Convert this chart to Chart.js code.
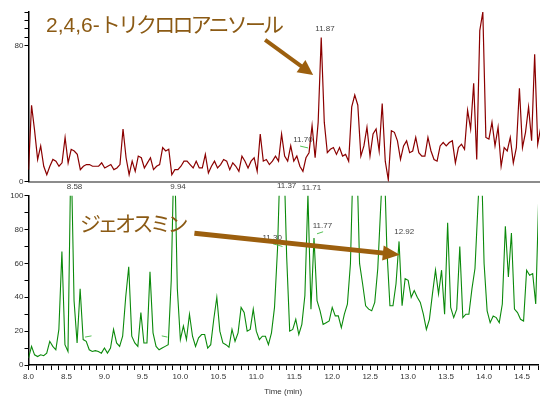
<!DOCTYPE html>
<html><head><meta charset="utf-8">
<script src="https://cdn.jsdelivr.net/npm/chart.js@4/dist/chart.umd.min.js"></script>
<style>
html,body{margin:0;padding:0;background:#fff;}
body{width:540px;height:397px;overflow:hidden;position:relative;}
canvas{position:absolute;left:0;}
#cTop{top:0;}
#cBot{top:178px;}
.big{position:absolute;color:#8b5a14;font-family:"Liberation Sans","Noto Sans CJK JP",sans-serif;font-size:21px;line-height:21px;white-space:nowrap;}
.big .kana{font-family:"Noto Sans CJK JP",sans-serif;}
#t1{left:46px;top:13px;}
#t1 .kana{letter-spacing:-2.8px;}
#t2{left:80px;top:212px;}
#t2 .kana{letter-spacing:-3.5px;}
</style></head>
<body>
<canvas id="cTop" width="540" height="190"></canvas>
<canvas id="cBot" width="540" height="219"></canvas>
<div class="big" id="t1">2,4,6-<span class="kana">トリクロロアニソール</span></div>
<div class="big" id="t2"><span class="kana">ジェオスミン</span></div>
<script>
// retention time grid (min)
const times = [
8,8.04,8.08,8.12,8.16,8.2,8.24,8.28,8.32,8.36,
8.4,8.44,8.48,8.52,8.56,8.6,8.64,8.68,8.72,8.76,
8.8,8.84,8.88,8.92,8.96,9,9.04,9.08,9.12,9.16,
9.2,9.24,9.28,9.32,9.36,9.4,9.44,9.48,9.52,9.56,
9.6,9.64,9.68,9.72,9.76,9.8,9.84,9.88,9.92,9.96,
10,10.04,10.08,10.12,10.16,10.2,10.24,10.28,10.32,10.36,
10.4,10.44,10.48,10.52,10.56,10.6,10.64,10.68,10.72,10.76,
10.8,10.84,10.88,10.92,10.96,11,11.04,11.08,11.12,11.16,
11.2,11.24,11.28,11.32,11.36,11.4,11.44,11.48,11.52,11.56,
11.6,11.64,11.68,11.72,11.76,11.8,11.84,11.88,11.92,11.96,
12,12.04,12.08,12.12,12.16,12.2,12.24,12.28,12.32,12.36,
12.4,12.44,12.48,12.52,12.56,12.6,12.64,12.68,12.72,12.76,
12.8,12.84,12.88,12.92,12.96,13,13.04,13.08,13.12,13.16,
13.2,13.24,13.28,13.32,13.36,13.4,13.44,13.48,13.52,13.56,
13.6,13.64,13.68,13.72,13.76,13.8,13.84,13.88,13.92,13.96,
14,14.04,14.08,14.12,14.16,14.2,14.24,14.28,14.32,14.36,
14.4,14.44,14.48,14.52,14.56,14.6,14.64,14.68,14.72];

// 2,4,6-trichloroanisole trace (relative intensity, %)
const tcaValues = [
7,45,30,13,21,9,4,9,13,12,
9,11,26,11,19,18,16,7,9,10,
10,9,9,9,11,8,9,10,7,8,
10,31,14,4,12,6,15,14,8,11,
14,7,9,10,20,18,19,4,7,7,
9,12,12,10,8,12,8,8,16,5,
9,12,8,10,13,12,7,11,9,6,
15,12,8,12,14,6,28,12,13,10,
12,15,12,28,15,12,21,12,15,9,
6,14,17,33,14,35,85,35,17,19,
20,16,20,15,16,12,44,51,45,15,
21,32,15,28,31,18,46,12,1,30,
29,24,13,21,24,17,18,26,17,15,
15,26,18,13,12,21,23,21,23,24,
11,20,22,19,42,31,58,13,89,100,
26,25,35,21,32,9,20,18,26,11,
20,55,20,29,44,24,75,22,32];

// geosmin trace (relative intensity, %; saturated peaks exceed 100)
const geosminValues = [
4,11,6,5,6,5.5,7,14,11,9,
21,67,12,8,130,38,13,45,15,14,
9,8,8.5,8,7,10,7,10,21,13,
11,17,40,58,17,13,11,31,13,13,
55,19,11,9,10,11,12,50,135,45,
15,23,15,30,17,11,16,18,18,10,
12,27,40,20,13,12,10.5,21,14,19,
34,31,20,21,33,20,15,17,17,12,
19,34,69,130,130,64,20,21,27,18,
24,41,101,33,75,38,32,24,25,26,
34,29,29,22,30,36,60,130,130,60,
48,35,33,32,37,57,95,130,68,35,
35,48,73,35,51,50,40,44,40,37,
30,21,27,42,56,42,56,30,84,34,
28,33,70,28,30,30,45,57,95,130,
60,32,25,29,28,25,36,82,52,78,
33,31,27,26,56,53,54,36,100];

// peak retention-time labels: text, time, level
const tcaPeakLabels = ['11.87','11.70'];
const tcaPeakTimes = [11.89, 11.60];
const tcaPeakLevels = [90, 24.5];

const geoPeakLabels = ['8.58','9.94','11.37','11.71','11.30','11.77','12.92'];
const geoPeakTimes = [8.606, 9.969, 11.399, 11.727, 11.209, 11.871, 12.948];
const geoPeakLevels = [105.5, 105.5, 105.9, 104.7, 75.1, 82.2, 78.7];

// small integration marks [t1, v1, t2, v2]
const tcaMarks = [[11.563, 20.9, 11.668, 19.8]];
const geoMarks = [[11.22, 71.6, 11.345, 70.0],[11.80, 77.5, 11.88, 78.7],[8.745, 16.5, 8.83, 17.2],[9.755, 17.2, 9.83, 16.5]];

// arrows [t1, v1, t2, v2]
const tcaArrow = [11.104, 83.5, 11.734, 62.9];
const geoArrow = [10.185, 77.8, 12.89, 65.1];

const X_MIN = 8, X_MAX = 14.71;
const FONT = '"Liberation Sans", Arial, sans-serif';

function toPoints(vals){ return times.map((t,i)=>({x:t, y:vals[i]})); }

function drawArrow(ctx, x1, y1, x2, y2, w, hl, hw, color){
  const dx = x2-x1, dy = y2-y1, L = Math.hypot(dx,dy);
  const ux = dx/L, uy = dy/L, px = -uy, py = ux;
  const bx = x2 - ux*hl, by = y2 - uy*hl;
  ctx.strokeStyle = color; ctx.fillStyle = color;
  ctx.lineWidth = w; ctx.lineCap = 'butt';
  ctx.beginPath(); ctx.moveTo(x1,y1); ctx.lineTo(bx+ux*1, by+uy*1); ctx.stroke();
  ctx.beginPath();
  ctx.moveTo(x2,y2);
  ctx.lineTo(bx+px*hw, by+py*hw);
  ctx.lineTo(bx-px*hw, by-py*hw);
  ctx.closePath(); ctx.fill();
}

const annotPlugin = {
  id: 'annot',
  afterDatasetsDraw(chart, args, opts){
    const ctx = chart.ctx, xs = chart.scales.x, ys = chart.scales.y;
    ctx.save();
    ctx.font = '8px ' + FONT;
    ctx.fillStyle = '#444';
    ctx.textAlign = 'center';
    ctx.textBaseline = 'middle';
    opts.labels.forEach((txt,i)=>{
      ctx.fillText(txt, xs.getPixelForValue(opts.times[i]), ys.getPixelForValue(opts.levels[i]));
    });
    ctx.strokeStyle = '#55c055';
    ctx.lineWidth = 1;
    opts.marks.forEach(m=>{
      ctx.beginPath();
      ctx.moveTo(xs.getPixelForValue(m[0]), ys.getPixelForValue(m[1]));
      ctx.lineTo(xs.getPixelForValue(m[2]), ys.getPixelForValue(m[3]));
      ctx.stroke();
    });
    const a = opts.arrow;
    drawArrow(ctx, xs.getPixelForValue(a[0]), ys.getPixelForValue(a[1]),
              xs.getPixelForValue(a[2]), ys.getPixelForValue(a[3]),
              opts.arrowWidth, opts.headLen, opts.headHalf, '#9c5f0e');
    ctx.restore();
  }
};

function baseOptions(){
  return {
    responsive:false, animation:false, devicePixelRatio:1,
    plugins:{legend:{display:false}, tooltip:{enabled:false}},
    elements:{point:{radius:0}, line:{tension:0}},
    events:[]
  };
}

// top chart: 2,4,6-trichloroanisole
const optTop = baseOptions();
optTop.layout = {padding:{top:12,left:0,right:0,bottom:0}};
optTop.scales = {
  x:{type:'linear', min:X_MIN, max:X_MAX,
     ticks:{display:false},
     grid:{drawOnChartArea:false, drawTicks:false},
     border:{display:true, color:'#8c8c8c', width:2},
     afterFit(s){ s.height = 8.5; }},
  y:{min:0, max:100,
     ticks:{stepSize:5, autoSkip:false, padding:1, color:'#333', font:{size:8, family:FONT},
            callback:(v)=> (v===0||v===80) ? String(v) : ''},
     grid:{drawOnChartArea:false, tickLength:4,
           tickColor:(c)=> (c.tick && (c.tick.value>=80 || c.tick.value===0)) ? '#000' : 'rgba(0,0,0,0)'},
     border:{color:'#000', width:1.5},
     afterFit(s){ s.width = 28.5; }}
};
optTop.plugins.annot = {labels:tcaPeakLabels, times:tcaPeakTimes, levels:tcaPeakLevels,
  marks:tcaMarks, arrow:tcaArrow, arrowWidth:4, headLen:15, headHalf:7.5};

new Chart(document.getElementById('cTop'), {
  type:'line',
  data:{datasets:[{data:toPoints(tcaValues), borderColor:'#8b0000', borderWidth:1.2, fill:false}]},
  options:optTop,
  plugins:[annotPlugin]
});

// bottom chart: geosmin
const optBot = baseOptions();
optBot.layout = {padding:{top:17.7,left:0,right:0,bottom:0}};
optBot.scales = {
  x:{type:'linear', min:X_MIN, max:X_MAX,
     ticks:{stepSize:0.1, autoSkip:false, maxRotation:0, padding:2, color:'#333', font:{size:8, family:FONT},
            callback:(v)=>{ const k = Math.round(v*10); return (Math.abs(v*10-k)<1e-6 && k%5===0) ? (k/10).toFixed(1) : ''; }},
     grid:{drawOnChartArea:false, tickLength:5, tickColor:'#000'},
     border:{color:'#000', width:1.5},
     title:{display:true, text:'Time (min)', color:'#333', font:{size:8, family:FONT}, padding:0},
     afterFit(s){ s.height = 32; }},
  y:{min:0, max:100,
     ticks:{stepSize:10, autoSkip:false, padding:1, color:'#333', font:{size:8, family:FONT},
            callback:(v)=> (v%20===0) ? String(v) : ''},
     grid:{drawOnChartArea:false, tickLength:4, tickColor:'#000'},
     border:{color:'#000', width:1.5},
     afterFit(s){ s.width = 28.5; }}
};
optBot.plugins.annot = {labels:geoPeakLabels, times:geoPeakTimes, levels:geoPeakLevels,
  marks:geoMarks, arrow:geoArrow, arrowWidth:5, headLen:17, headHalf:7.5};

new Chart(document.getElementById('cBot'), {
  type:'line',
  data:{datasets:[{data:toPoints(geosminValues), borderColor:'#0b8a0b', borderWidth:1.1, fill:false}]},
  options:optBot,
  plugins:[annotPlugin]
});
</script>
</body></html>
